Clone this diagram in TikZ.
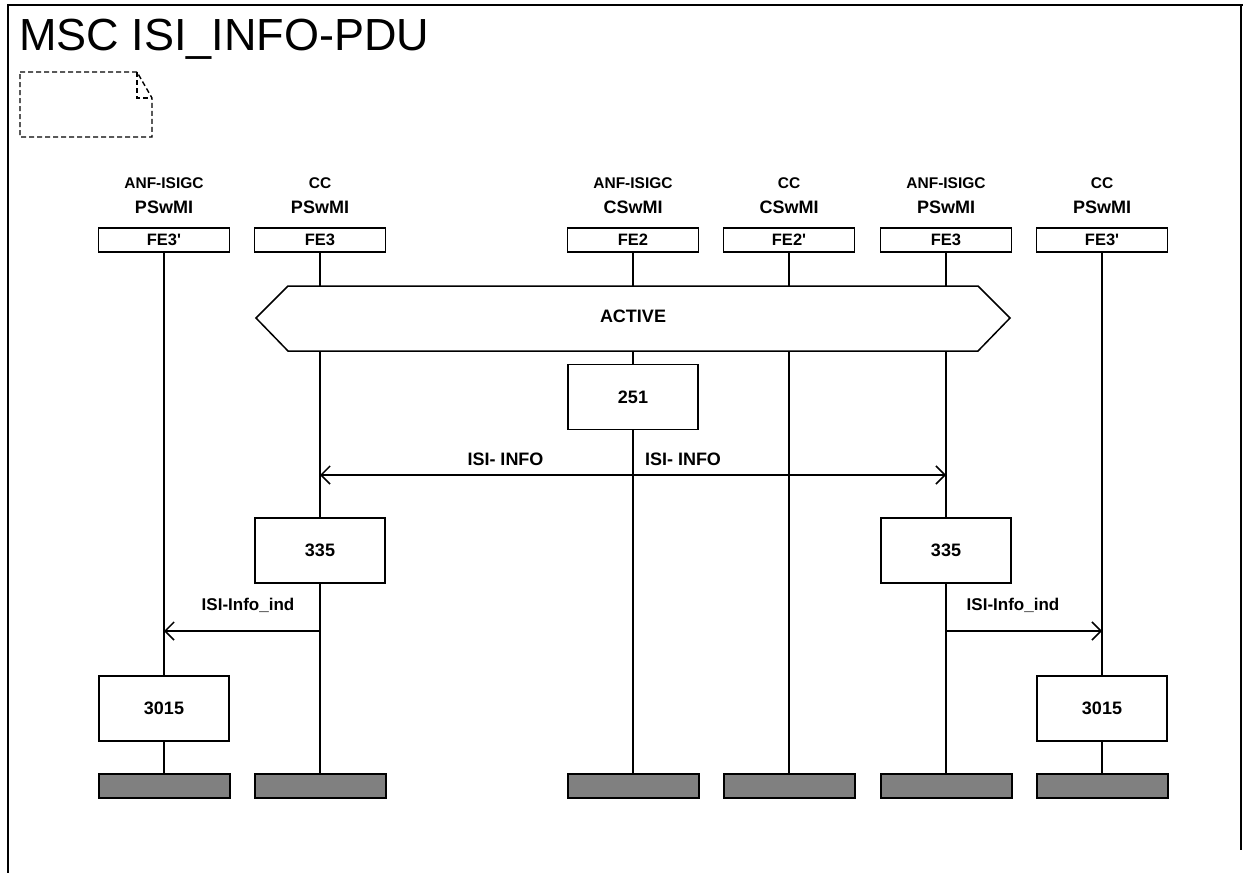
\documentclass[tikz,border=0pt]{standalone}
\usepackage{fontspec}
\setmainfont{Liberation Sans}
\usetikzlibrary{arrows.meta}
\tikzset{
  frameline/.style={line width=2pt},
  life/.style={line width=1.5pt},
  headbox/.style={draw, line width=1.5pt, minimum width=131pt, minimum height=24pt, inner sep=0pt, font=\fontsize{16.5}{16.5}\selectfont\bfseries},
  endbox/.style={draw, line width=2pt, fill=black!50, minimum width=131pt, minimum height=24pt, inner sep=0pt},
  actbox/.style={draw, line width=1.5pt, fill=white, minimum width=130pt, minimum height=65pt, inner sep=0pt, font=\fontsize{18}{18}\selectfont\bfseries},
  lbl/.style={font=\fontsize{15.5}{15.5}\selectfont\bfseries, inner sep=0pt},
  lblb/.style={font=\fontsize{18}{18}\selectfont\bfseries, inner sep=0pt},
  msglbl/.style={font=\fontsize{18}{18}\selectfont\bfseries, inner sep=0pt},
  msglbls/.style={font=\fontsize{17}{17}\selectfont\bfseries, inner sep=0pt},
  msg/.style={line width=1.5pt, -{Straight Barb[length=9pt,width=18pt,line width=1.5pt]}},
}
\begin{document}
\begin{tikzpicture}[x=1pt,y=-1pt]
\useasboundingbox (0,0) rectangle (1243,873);
% frame
\draw[frameline] (8,873) -- (8,5) -- (1243,5);
\draw[frameline] (1241,5) -- (1241,850);
\node[anchor=base west, inner sep=0pt, font=\fontsize{45}{45}\selectfont] (title) at (19,50) {MSC ISI\_INFO-PDU};
% comment symbol
\draw[line width=1.4pt, dash pattern=on 5pt off 3pt] (20,72) -- (137,72) -- (152,98) -- (152,137) -- (20,137) -- cycle;
\draw[line width=1.4pt, dash pattern=on 5pt off 3pt] (137,72) -- (137,98) -- (152,98);
% instance heads
\foreach \n/\x/\fe/\a/\b in {i1/164/FE3\textquotesingle/ANF-ISIGC/PSwMI, i2/320/FE3/CC/PSwMI, i3/633/FE2/ANF-ISIGC/CSwMI, i4/789/FE2\textquotesingle/CC/CSwMI, i5/946/FE3/ANF-ISIGC/PSwMI, i6/1102/FE3\textquotesingle/CC/PSwMI}{
  \node[headbox] (\n h) at (\x,240) {\fe};
  \node[lbl] (\n a) at (\x,183) {\a};
  \node[lblb] (\n b) at (\x,207) {\b};
  \node[endbox] (\n e) at (\x,785.5) {};
  \draw[life] (\n h.south) -- (\n e.north);
}
% condition ACTIVE
\draw[line width=1.5pt, fill=white] (256,318) -- (288,286) -- (978,286) -- (1010,318) -- (978,351) -- (288,351) -- cycle;
\node[font=\fontsize{18}{18}\selectfont\bfseries, inner sep=0pt] (active) at (633,316) {ACTIVE};
% action boxes
\node[actbox] (a251) at (633,397) {251};
\coordinate (m1l) at (320,475);
\coordinate (m1r) at (946,475);
\draw[msg] (i3h |- m1l) -- (m1l);
\draw[msg] (i3h |- m1l) -- (m1r);
\node[msglbl] (l1) at (505.5,459) {ISI- INFO};
\node[msglbl] (l2) at (683,459) {ISI- INFO};
\node[actbox] (a335l) at (320,550.5) {335};
\node[actbox] (a335r) at (946,550.5) {335};
\coordinate (m2a) at (320,631);
\coordinate (m2b) at (164,631);
\coordinate (m3a) at (946,631);
\coordinate (m3b) at (1102,631);
\draw[msg] (m2a) -- (m2b);
\draw[msg] (m3a) -- (m3b);
\node[msglbls] (l3) at (248,605) {ISI-Info\_ind};
\node[msglbls] (l4) at (1013,605) {ISI-Info\_ind};
\node[actbox] (a3015l) at (164,708.5) {3015};
\node[actbox] (a3015r) at (1102,708.5) {3015};
\end{tikzpicture}
\end{document}
